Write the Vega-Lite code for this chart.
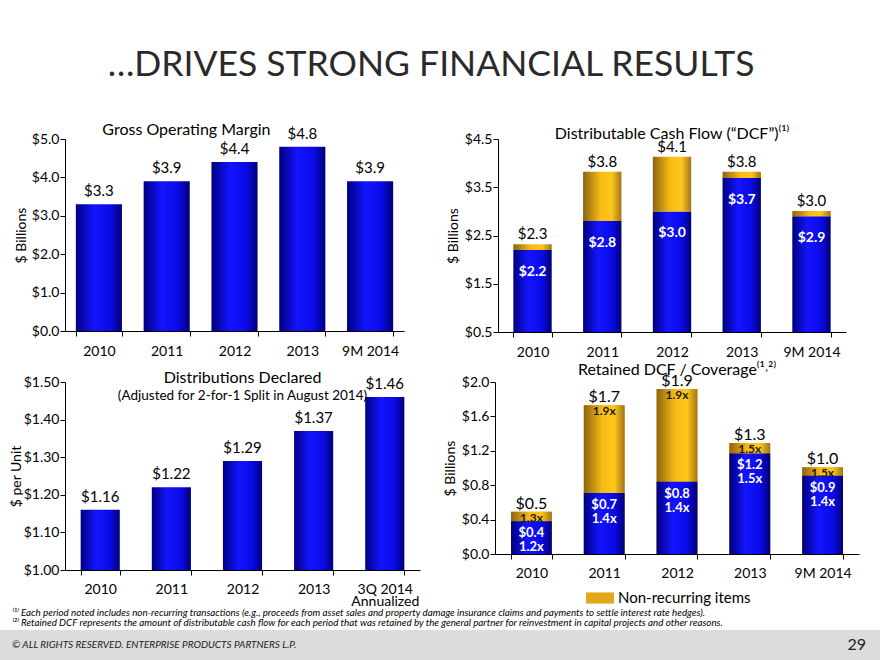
{
  "$schema": "https://vega.github.io/schema/vega-lite/v6.json",
  "background": "white",
  "padding": {"left": 0, "top": 48, "right": 0, "bottom": 0},
  "title": {
    "text": "…DRIVES STRONG FINANCIAL RESULTS",
    "font": "Lato",
    "fontSize": 35.5,
    "fontWeight": "normal",
    "color": "#2a2a2a",
    "anchor": "middle",
    "dx": -9,
    "offset": 38
  },
  "config": {
    "font": "Lato",
    "view": {"stroke": null},
    "axis": {
      "labelFont": "Lato",
      "titleFont": "Lato",
      "labelFontSize": 14,
      "titleFontSize": 14,
      "titleFontWeight": "normal",
      "labelColor": "#000",
      "titleColor": "#000",
      "domainColor": "#000",
      "tickColor": "#000",
      "grid": false,
      "tickSize": 5
    },
    "axisX": {"tickBand": "extent", "labelAngle": 0, "title": null, "labelPadding": 8},
    "axisY": {"titlePadding": 2, "labelPadding": 1, "labelOverlap": false},
    "title": {"font": "Lato", "fontSize": 16, "fontWeight": "normal", "color": "#000"}
  },
  "datasets": {
    "gom": [
      {"period": "2010", "value": 3.3},
      {"period": "2011", "value": 3.9},
      {"period": "2012", "value": 4.4},
      {"period": "2013", "value": 4.8},
      {"period": "9M 2014", "value": 3.9}
    ],
    "dcf": [
      {"period": "2010", "recurring": 2.2, "total": 2.32},
      {"period": "2011", "recurring": 2.8, "total": 3.82},
      {"period": "2012", "recurring": 3.0, "total": 4.13},
      {"period": "2013", "recurring": 3.69, "total": 3.82},
      {"period": "9M 2014", "recurring": 2.9, "total": 3.01}
    ],
    "dist": [
      {"period": "2010", "value": 1.16},
      {"period": "2011", "value": 1.22},
      {"period": "2012", "value": 1.29},
      {"period": "2013", "value": 1.37},
      {"period": "3Q 2014", "value": 1.46}
    ],
    "retained": [
      {"period": "2010", "recurring": 0.38, "total": 0.49, "coverage": "1.2x", "totalCoverage": "1.3x", "kind": "Non-recurring items"},
      {"period": "2011", "recurring": 0.71, "total": 1.73, "coverage": "1.4x", "totalCoverage": "1.9x", "kind": "Non-recurring items"},
      {"period": "2012", "recurring": 0.84, "total": 1.92, "coverage": "1.4x", "totalCoverage": "1.9x", "kind": "Non-recurring items"},
      {"period": "2013", "recurring": 1.17, "total": 1.29, "coverage": "1.5x", "totalCoverage": "1.5x", "kind": "Non-recurring items"},
      {"period": "9M 2014", "recurring": 0.91, "total": 1.01, "coverage": "1.4x", "totalCoverage": "1.5x", "kind": "Non-recurring items"}
    ],
    "footer": [
      {"side": "left", "label": "© ALL RIGHTS RESERVED. ENTERPRISE PRODUCTS PARTNERS L.P."},
      {"side": "right", "label": "29"}
    ]
  },
  "columns": 1,
  "align": "none",
  "spacing": 2,
  "resolve": {"scale": {"color": "independent"}, "legend": {"color": "independent"}},
  "concat": [
    {
      "columns": 2,
      "align": "none",
      "spacing": 42,
      "concat": [
        {
          "width": 339,
          "height": 192,
          "title": {"text": "Gross Operating Margin", "anchor": "start", "dx": 88, "offset": -11},
          "data": {"name": "gom"},
          "encoding": {
            "x": {"field": "period", "type": "nominal", "sort": null, "scale": {"paddingInner": 0.32, "paddingOuter": 0.16}},
            "y": {
              "field": "value",
              "type": "quantitative",
              "scale": {"domain": [0, 5]},
              "axis": {"title": "$ Billions", "values": [0, 1, 2, 3, 4, 5], "format": "$.1f", "titlePadding": 3}
            }
          },
          "layer": [
            {
              "mark": {
                "type": "bar",
                "color": {"gradient": "linear", "x1": 0, "y1": 0, "x2": 1, "y2": 0,
                  "stops": [{"offset": 0, "color": "#000080"}, {"offset": 0.4, "color": "#1414ff"}, {"offset": 0.75, "color": "#0a0ae6"}, {"offset": 1, "color": "#000078"}]}
              }
            },
            {
              "mark": {"type": "text", "baseline": "bottom", "dy": -5, "fontSize": 15, "color": "#000"},
              "encoding": {"text": {"field": "value", "format": "$.1f"}}
            }
          ]
        },
        {
          "width": 348,
          "height": 193,
          "title": {"text": "Distributable Cash Flow (“DCF”)⁽¹⁾", "offset": -10},
          "data": {"name": "dcf"},
          "encoding": {
            "x": {"field": "period", "type": "nominal", "sort": null, "scale": {"paddingInner": 0.45, "paddingOuter": 0.22}}
          },
          "layer": [
            {
              "mark": {
                "type": "bar",
                "color": {"gradient": "linear", "x1": 0, "y1": 0, "x2": 1, "y2": 0,
                  "stops": [{"offset": 0, "color": "#000080"}, {"offset": 0.4, "color": "#1414ff"}, {"offset": 0.75, "color": "#0a0ae6"}, {"offset": 1, "color": "#000078"}]}
              },
              "encoding": {
                "y": {
                  "field": "recurring",
                  "type": "quantitative",
                  "scale": {"domain": [0.5, 4.5]},
                  "axis": {"title": "$ Billions", "values": [0.5, 1.5, 2.5, 3.5, 4.5], "format": "$.1f", "titlePadding": 4}
                },
                "y2": {"datum": 0.5}
              }
            },
            {
              "mark": {
                "type": "bar",
                "color": {"gradient": "linear", "x1": 0, "y1": 0, "x2": 1, "y2": 0,
                  "stops": [{"offset": 0, "color": "#8c6410"}, {"offset": 0.45, "color": "#f7bb14"}, {"offset": 0.75, "color": "#ffc61a"}, {"offset": 1, "color": "#a07418"}]}
              },
              "encoding": {
                "y": {"field": "total", "type": "quantitative"},
                "y2": {"field": "recurring"}
              }
            },
            {
              "mark": {"type": "text", "baseline": "bottom", "dy": -2, "fontSize": 15, "color": "#000"},
              "encoding": {
                "y": {"field": "total", "type": "quantitative"},
                "text": {"field": "total", "format": "$.1f"}
              }
            },
            {
              "mark": {"type": "text", "baseline": "middle", "dy": 22, "fontSize": 14, "fontWeight": "bold", "color": "#fff"},
              "encoding": {
                "y": {"field": "recurring", "type": "quantitative"},
                "text": {"field": "recurring", "format": "$.1f"}
              }
            }
          ]
        }
      ]
    },
    {
      "columns": 2,
      "align": "none",
      "spacing": 23,
      "resolve": {"scale": {"color": "independent"}, "legend": {"color": "independent"}},
      "title": {
        "text": [
          "⁽¹⁾ Each period noted includes non-recurring transactions (e.g., proceeds from asset sales and property damage insurance claims and payments to settle interest rate hedges).",
          "⁽²⁾ Retained DCF represents the amount of distributable cash flow for each period that was retained by the general partner for reinvestment in capital projects and other reasons."
        ],
        "orient": "bottom",
        "anchor": "start",
        "fontSize": 9.8,
        "fontStyle": "italic",
        "lineHeight": 10,
        "offset": 0,
        "dx": 3
      },
      "concat": [
        {
          "width": 355,
          "height": 188,
          "title": {
            "text": "Distributions Declared",
            "subtitle": "(Adjusted for 2-for-1 Split in August 2014)",
            "subtitleFont": "Lato",
            "subtitleFontSize": 13.5,
            "subtitleColor": "#000",
            "subtitlePadding": 3,
            "offset": -27
          },
          "data": {"name": "dist"},
          "encoding": {
            "x": {
              "field": "period",
              "type": "nominal",
              "sort": null,
              "scale": {"paddingInner": 0.45, "paddingOuter": 0.22},
              "axis": {"labelExpr": "datum.label == '3Q 2014' ? ['3Q 2014', 'Annualized'] : datum.label", "labelLineHeight": 12, "labelPadding": 7}
            },
            "y": {
              "field": "value",
              "type": "quantitative",
              "scale": {"domain": [1.0, 1.5]},
              "axis": {"title": "$ per Unit", "values": [1.0, 1.1, 1.2, 1.3, 1.4, 1.5], "format": "$.2f", "titlePadding": 0}
            }
          },
          "layer": [
            {
              "mark": {
                "type": "bar",
                "color": {"gradient": "linear", "x1": 0, "y1": 0, "x2": 1, "y2": 0,
                  "stops": [{"offset": 0, "color": "#000080"}, {"offset": 0.4, "color": "#1414ff"}, {"offset": 0.75, "color": "#0a0ae6"}, {"offset": 1, "color": "#000078"}]}
              },
              "encoding": {"y2": {"datum": 1.0}}
            },
            {
              "mark": {"type": "text", "baseline": "bottom", "dy": -5, "fontSize": 15, "color": "#000"},
              "encoding": {"text": {"field": "value", "format": "$.2f"}}
            }
          ]
        },
        {
          "width": 364,
          "height": 172,
          "title": {"text": "Retained DCF / Coverage⁽¹˒²⁾", "offset": -5},
          "data": {"name": "retained"},
          "encoding": {
            "x": {"field": "period", "type": "nominal", "sort": null, "scale": {"paddingInner": 0.44, "paddingOuter": 0.22}, "axis": {"labelPadding": 7}}
          },
          "layer": [
            {
              "mark": {
                "type": "bar",
                "color": {"gradient": "linear", "x1": 0, "y1": 0, "x2": 1, "y2": 0,
                  "stops": [{"offset": 0, "color": "#8c6410"}, {"offset": 0.45, "color": "#f7bb14"}, {"offset": 0.75, "color": "#ffc61a"}, {"offset": 1, "color": "#a07418"}]}
              },
              "encoding": {
                "y": {
                  "field": "total",
                  "type": "quantitative",
                  "scale": {"domain": [0, 2.0]},
                  "axis": {"title": "$ Billions", "values": [0, 0.4, 0.8, 1.2, 1.6, 2.0], "format": "$.1f", "titlePadding": 4, "labelOverlap": false}
                },
                "color": {
                  "field": "kind",
                  "type": "nominal",
                  "scale": {"range": ["#e0a818"]},
                  "legend": {
                    "orient": "none",
                    "legendX": 91,
                    "legendY": 202,
                    "title": null,
                    "symbolType": "M-1,-0.4H1V0.4H-1Z",
                    "symbolSize": 784,
                    "symbolStrokeWidth": 0,
                    "labelFontSize": 15,
                    "labelFont": "Lato",
                    "labelColor": "#000"
                  }
                }
              }
            },
            {
              "mark": {
                "type": "bar",
                "color": {"gradient": "linear", "x1": 0, "y1": 0, "x2": 1, "y2": 0,
                  "stops": [{"offset": 0, "color": "#8c6410"}, {"offset": 0.45, "color": "#f7bb14"}, {"offset": 0.75, "color": "#ffc61a"}, {"offset": 1, "color": "#a07418"}]}
              },
              "encoding": {
                "y": {"field": "total", "type": "quantitative", "axis": {"title": "$ Billions", "values": [0, 0.4, 0.8, 1.2, 1.6, 2.0], "format": "$.1f", "titlePadding": 4, "labelOverlap": false}}
              }
            },
            {
              "mark": {
                "type": "bar",
                "color": {"gradient": "linear", "x1": 0, "y1": 0, "x2": 1, "y2": 0,
                  "stops": [{"offset": 0, "color": "#000080"}, {"offset": 0.4, "color": "#1414ff"}, {"offset": 0.75, "color": "#0a0ae6"}, {"offset": 1, "color": "#000078"}]}
              },
              "encoding": {
                "y": {"field": "recurring", "type": "quantitative", "axis": {"title": "$ Billions", "values": [0, 0.4, 0.8, 1.2, 1.6, 2.0], "format": "$.1f", "titlePadding": 4, "labelOverlap": false}}
              }
            },
            {
              "mark": {"type": "text", "baseline": "bottom", "dy": 0, "fontSize": 16, "color": "#000"},
              "encoding": {
                "y": {"field": "total", "type": "quantitative", "axis": {"title": "$ Billions", "values": [0, 0.4, 0.8, 1.2, 1.6, 2.0], "format": "$.1f", "titlePadding": 4, "labelOverlap": false}},
                "text": {"field": "total", "format": "$.1f"}
              }
            },
            {
              "mark": {"type": "text", "baseline": "top", "dy": 1, "fontSize": 12, "fontWeight": "bold", "color": "#1a1a1a"},
              "encoding": {
                "y": {"field": "total", "type": "quantitative", "axis": {"title": "$ Billions", "values": [0, 0.4, 0.8, 1.2, 1.6, 2.0], "format": "$.1f", "titlePadding": 4, "labelOverlap": false}},
                "text": {"field": "totalCoverage"}
              }
            },
            {
              "mark": {"type": "text", "baseline": "top", "dy": 6, "fontSize": 13, "fontWeight": "bold", "color": "#fff"},
              "encoding": {
                "y": {"field": "recurring", "type": "quantitative", "axis": {"title": "$ Billions", "values": [0, 0.4, 0.8, 1.2, 1.6, 2.0], "format": "$.1f", "titlePadding": 4, "labelOverlap": false}},
                "text": {"field": "recurring", "format": "$.1f"}
              }
            },
            {
              "mark": {"type": "text", "baseline": "top", "dy": 20, "fontSize": 13, "fontWeight": "bold", "color": "#fff"},
              "encoding": {
                "y": {"field": "recurring", "type": "quantitative", "axis": {"title": "$ Billions", "values": [0, 0.4, 0.8, 1.2, 1.6, 2.0], "format": "$.1f", "titlePadding": 4, "labelOverlap": false}},
                "text": {"field": "coverage"}
              }
            }
          ]
        }
      ]
    },
    {
      "width": 815,
      "height": 30,
      "data": {"name": "footer"},
      "resolve": {"scale": {"x": "independent"}},
      "layer": [
        {
          "transform": [{"filter": "datum.side == 'left'"}],
          "mark": {"type": "rect", "color": "#dcdcdc"},
          "encoding": {
            "x": {"datum": -0.07975, "type": "quantitative", "scale": {"domain": [0, 1]}, "axis": null},
            "x2": {"datum": 1}
          }
        },
        {
          "transform": [{"filter": "datum.side == 'left'"}],
          "mark": {"type": "text", "align": "left", "dx": -53, "fontSize": 10, "fontStyle": "italic", "color": "#222"},
          "encoding": {
            "x": {"field": "side", "type": "nominal", "scale": {"type": "point", "domain": ["left", "right"], "padding": 0}, "axis": null},
            "text": {"field": "label"}
          }
        },
        {
          "transform": [{"filter": "datum.side == 'right'"}],
          "mark": {"type": "text", "align": "right", "dx": -14, "fontSize": 16, "color": "#222"},
          "encoding": {
            "x": {"field": "side", "type": "nominal", "scale": {"type": "point", "domain": ["left", "right"], "padding": 0}, "axis": null},
            "text": {"field": "label"}
          }
        }
      ]
    }
  ]
}
